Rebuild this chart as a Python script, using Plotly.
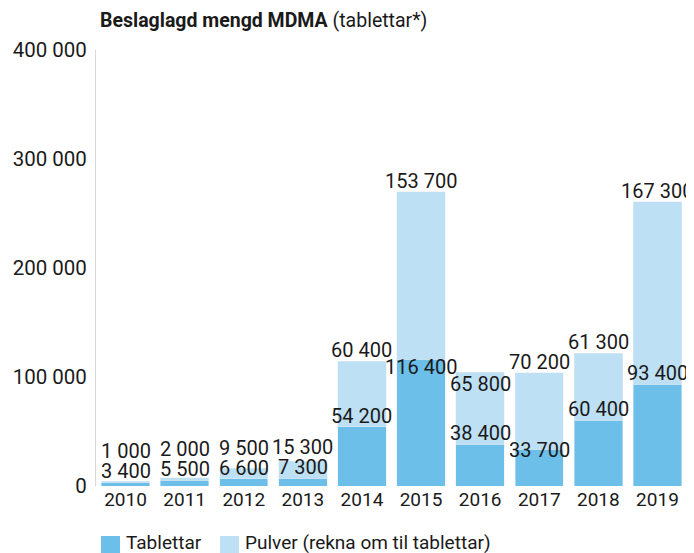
import plotly.graph_objects as go

years = ["2010", "2011", "2012", "2013", "2014", "2015", "2016", "2017", "2018", "2019"]
tablettar = [3400, 5500, 6600, 7300, 54200, 116400, 38400, 33700, 60400, 93400]
pulver = [1000, 2000, 9500, 15300, 60400, 153700, 65800, 70200, 61300, 167300]

C_TAB = "#6bbfe8"
C_PUL = "#bde0f4"
FONT = "Roboto, 'Open Sans', sans-serif"
TXT = "#1a1a1a"

# page has an 8px body margin; size the figure so it fits the 694x553 window
OFF = 8
W, H = 694 - OFF, 553 - OFF
M = dict(l=96 - OFF, r=7, t=50 - OFF, b=67)
YMAX = 400000
plot_h = H - M["t"] - M["b"]
plot_w = W - M["l"] - M["r"]
px_per = plot_h / YMAX
LBL_SIZE = 20


def fmt(v):
    return f"{v:,}".replace(",", " ")


def px_x(px):  # page pixel -> paper x
    return (px - OFF - M["l"]) / plot_w


def px_y(py):  # page pixel -> paper y
    return (H - M["b"] - (py - OFF)) / plot_h


def text_w(s):
    return sum(0.25 * LBL_SIZE if c == " " else 0.56 * LBL_SIZE for c in s)


fig = go.Figure()
fig.add_trace(go.Bar(x=years, y=tablettar, name="Tablettar", marker_color=C_TAB,
                     showlegend=False, hoverinfo="x+y"))
fig.add_trace(go.Bar(x=years, y=pulver, name="Pulver (rekna om til tablettar)",
                     marker_color=C_PUL, showlegend=False, hoverinfo="x+y"))

# simple label collision avoidance (pixel space, measured up from the axis)
LH_OWN = 20
LH_NB = 17
placed = []


def place(i, s, b):
    xc = (i + 0.5) * plot_w / len(years)
    w = text_w(s)
    x0, x1 = xc - w / 2, xc + w / 2
    for _ in range(20):
        hits = [q for q in placed
                if q[0] < x1 and q[1] > x0
                and abs(q[2] - b) < (LH_OWN if q[3] == i else LH_NB)]
        if not hits:
            break
        own = [q for q in hits if q[3] == i]
        if own:
            b = max(q[2] for q in own) + LH_OWN
        else:
            b = min(q[2] for q in hits) - LH_NB
    placed.append((x0, x1, b, i))
    return b


ann = []
for i, (t, p) in enumerate(zip(tablettar, pulver)):
    tot = t + p
    bt = place(i, fmt(t), t * px_per)
    ann.append(dict(x=i, y=t, text=fmt(t), showarrow=False, yanchor="bottom",
                    xanchor="center", yshift=bt - t * px_per - 3,
                    font=dict(size=LBL_SIZE, color=TXT, family=FONT)))
    bp = place(i, fmt(p), tot * px_per)
    ann.append(dict(x=i, y=tot, text=fmt(p), showarrow=False, yanchor="bottom",
                    xanchor="center", yshift=bp - tot * px_per - 3,
                    font=dict(size=LBL_SIZE, color=TXT, family=FONT)))

# title
ann.append(dict(xref="paper", yref="paper", x=px_x(98), y=1, yshift=16, xanchor="left",
                yanchor="bottom",
                text="<b>Beslaglagd mengd MDMA</b> (tablettar*)", showarrow=False,
                font=dict(size=19.5, color=TXT, family=FONT)))

# manual legend
shapes = []
legend_items = [("Tablettar", C_TAB, 101), ("Pulver (rekna om til tablettar)", C_PUL, 220)]
for label, col, x0 in legend_items:
    shapes.append(dict(type="rect", xref="paper", yref="paper",
                       x0=px_x(x0), x1=px_x(x0 + 19), y0=px_y(554), y1=px_y(536),
                       fillcolor=col, line=dict(width=0)))
    ann.append(dict(xref="paper", yref="paper", x=px_x(x0 + 23), y=px_y(542),
                    xanchor="left", yanchor="middle", text=label, showarrow=False,
                    font=dict(size=19, color=TXT, family=FONT)))

fig.update_layout(
    width=W, height=H, margin=M,
    barmode="stack", bargap=0.18,
    plot_bgcolor="white", paper_bgcolor="white",
    separators=", ",
    font=dict(family=FONT, color=TXT, size=19),
    annotations=ann, shapes=shapes,
    xaxis=dict(type="category", range=[-0.5, 9.5], showgrid=False, showline=False,
               ticks="", tickfont=dict(size=19), zeroline=False, automargin=False),
    yaxis=dict(range=[0, YMAX], tickvals=[0, 100000, 200000, 300000, 400000],
               tickformat=",d", showgrid=False, zeroline=False, showline=True,
               linecolor="#d9d9d9", linewidth=1, ticks="", tickfont=dict(size=20.5),
               ticklabelstandoff=4, automargin=False),
)

fig.write_html("out.html")
